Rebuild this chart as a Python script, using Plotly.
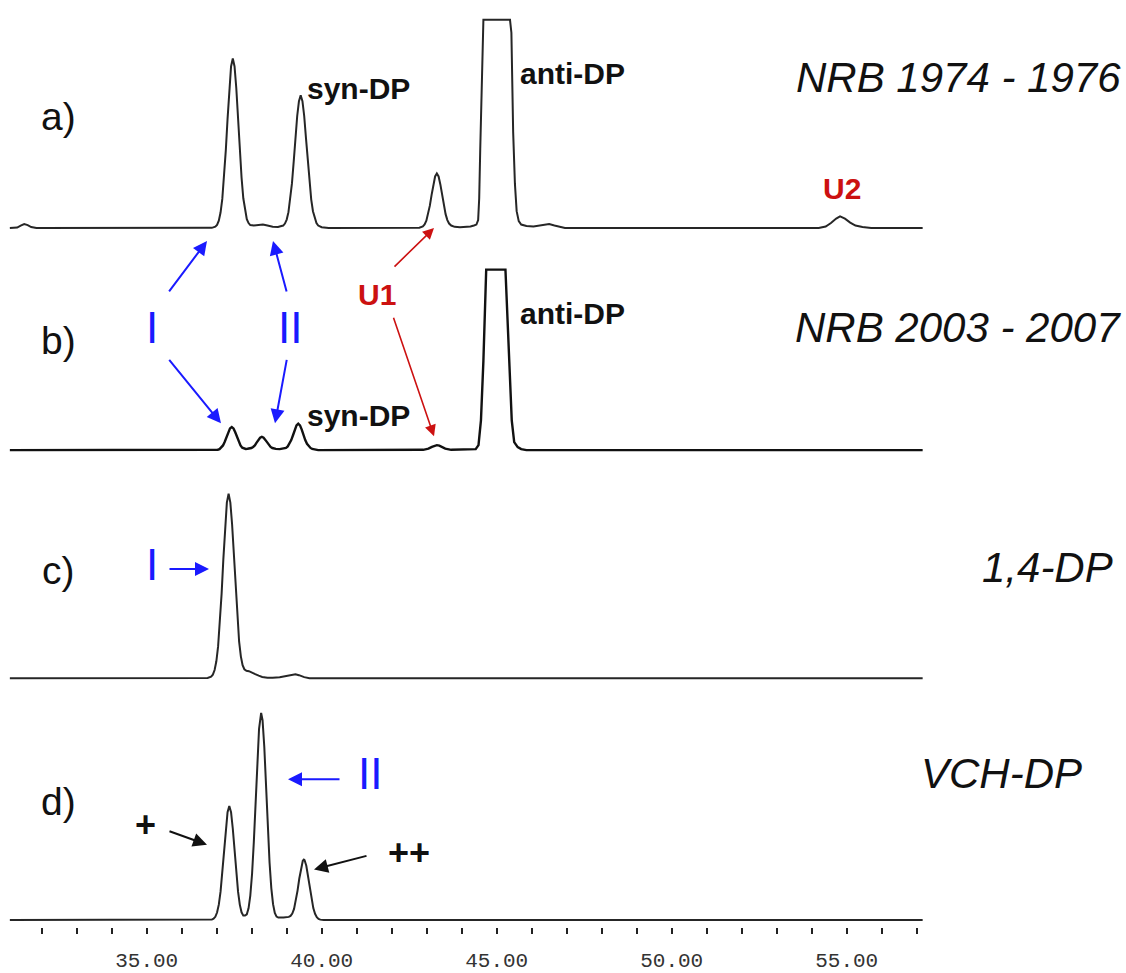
import plotly.graph_objects as go

# ---------------- data (retention time in min, detector response) ----------------
a_x = [31.09, 31.3, 31.4, 31.5, 31.6, 31.7, 31.85, 36.7,
       36.86, 36.96, 37.01, 37.06, 37.11, 37.16, 37.21, 37.26, 37.31, 37.36, 37.41, 37.46,
       37.51, 37.56, 37.61, 37.66, 37.71, 37.76, 37.81, 37.86, 37.91, 37.96,
       38.06, 38.2, 38.32, 38.45, 38.6, 38.75,
       38.85, 38.9, 38.95, 39.0, 39.05, 39.1, 39.15, 39.2, 39.25, 39.3, 39.35, 39.4, 39.45,
       39.5, 39.55, 39.6, 39.65, 39.7, 39.75, 39.8, 39.85, 39.9,
       40.0, 40.2, 42.6,
       42.79, 42.89, 42.94, 42.99, 43.04, 43.09, 43.14, 43.19, 43.24, 43.29, 43.34, 43.39,
       43.44, 43.49, 43.54, 43.59, 43.64, 43.7, 43.8, 43.95,
       44.1, 44.25, 44.35, 44.42, 44.47, 44.5, 44.53, 44.57, 44.6, 44.62,
       45.38, 45.42, 45.47, 45.52, 45.57, 45.63, 45.7, 45.85,
       46.05, 46.25, 46.4, 46.5, 46.65, 46.8, 46.95,
       54.2, 54.4, 54.55, 54.7, 54.81, 54.95, 55.1, 55.25, 55.45, 55.7, 57.17]
a_y = [0, 0.5, 2.5, 4, 3, 1, 0, 0,
       0.2, 1.3, 3.2, 7.5, 15.6, 29.4, 50.4, 78.3, 110, 141, 163, 171,
       163, 141, 110, 78, 51, 30, 17, 9, 5, 3,
       2.5, 3, 3.5, 2.5, 1.2, 1,
       1.8, 2.5, 4.5, 8.5, 16, 28, 45, 67, 91, 113, 128, 134, 128,
       113, 91, 67, 46, 29, 17, 9.5, 5, 2.5,
       0.8, 0, 0,
       0.3, 1.6, 3.6, 7.4, 13.7, 22.6, 33.4, 44, 52, 55, 52, 44,
       33.4, 22.6, 14, 8, 4.5, 2.5, 1.2, 0.8,
       1, 1.5, 2.5, 3.5, 8, 30, 80, 130, 180, 210,
       210, 197, 97, 45, 17, 7, 3.5, 2,
       1.5, 2.5, 4, 4, 2.5, 1, 0,
       0, 1.5, 5, 9.5, 11.7, 9.5, 5.5, 2.5, 1, 0, 0]

b_x = [31.09, 36.98,
       37.03, 37.08, 37.13, 37.18, 37.23, 37.28, 37.33, 37.38, 37.43, 37.48, 37.53, 37.58,
       37.63, 37.68, 37.73,
       37.78, 37.83, 37.88,
       37.94, 37.99, 38.04, 38.09, 38.14, 38.19, 38.24, 38.29, 38.34, 38.39, 38.44, 38.49,
       38.54, 38.59, 38.64, 38.69,
       38.8,
       38.93, 38.98, 39.03, 39.08, 39.13, 39.18, 39.23, 39.28, 39.33, 39.38, 39.43, 39.48,
       39.53, 39.58, 39.63, 39.68, 39.73,
       39.8, 39.9, 42.9,
       43.05, 43.15, 43.22, 43.29, 43.36, 43.43, 43.53, 43.7,
       44.4, 44.48, 44.55, 44.62, 44.66, 44.7,
       45.25, 45.3, 45.36, 45.43, 45.5, 45.6, 45.7, 45.85,
       57.17]
b_y = [0, 0,
       0.4, 1, 2.4, 4.7, 8.4, 13.1, 18, 21.9, 23.3, 21.9, 18, 13.1,
       8.4, 4.7, 2.4,
       1.5, 1.2, 1.4,
       1.6, 2.1, 3.2, 4.8, 7.5, 10.3, 12.5, 13.3, 12.5, 10.3, 7.5, 4.8,
       3.2, 2.1, 1.6, 1.2,
       1.0,
       1.5, 2.2, 3.7, 6.4, 10.1, 15, 20.7, 25, 26.7, 25, 20.7, 15,
       10.1, 6.4, 3.7, 2.2, 1.2,
       0.5, 0, 0.3,
       1.5, 3.3, 4.5, 5, 4.5, 3.3, 1.5, 0.3,
       1, 5, 30, 90, 140, 182,
       182, 140, 80, 30, 8, 3, 1, 0,
       0]

c_x = [31.09, 36.74, 36.84, 36.89, 36.94, 36.99, 37.04, 37.09, 37.14, 37.19, 37.24, 37.29,
       37.34, 37.39, 37.44, 37.49, 37.54, 37.59, 37.64, 37.69, 37.74, 37.79, 37.85, 37.92,
       38.0, 38.1, 38.2, 38.3, 38.45, 38.6, 38.8, 39.0, 39.15, 39.25, 39.35, 39.5, 39.65, 57.17]
c_y = [0, 0.2, 1.4, 3.5, 8.2, 17, 32, 55, 85, 120, 153, 177,
       186, 177, 155, 124, 90, 60, 37, 22, 13, 9, 7.5, 7,
       6, 4, 2.5, 1.2, 0.5, 0.3, 0.8, 2.5, 3.8, 4, 3, 1, 0, 0]

d_x = [31.09, 36.76, 36.81, 36.86, 36.91, 36.96, 37.01, 37.06, 37.11, 37.16, 37.21, 37.26,
       37.31, 37.36, 37.41, 37.46, 37.51, 37.56, 37.61, 37.66, 37.71, 37.76, 37.81, 37.86,
       37.91, 37.96, 38.01, 38.06, 38.11, 38.16, 38.21, 38.27, 38.31, 38.36, 38.41, 38.46,
       38.51, 38.56, 38.61, 38.66, 38.71, 38.76, 38.81, 38.86, 38.91, 38.96, 39.01, 39.06,
       39.11, 39.16, 39.21, 39.26, 39.31, 39.36, 39.41, 39.46, 39.49, 39.51, 39.56, 39.61,
       39.66, 39.71, 39.76, 39.81, 39.86, 39.91, 39.96, 40.06, 57.17]
d_y = [0, 0, 0.1, 0.45, 1.3, 3.3, 7.6, 15.5, 28.6, 47.3, 69.8, 92.1,
       108.8, 115, 108.8, 92.1, 69.8, 47.3, 28.6, 15.6, 7.8, 4.5, 4.5, 5.8,
       11.8, 24.7, 46.5, 78.4, 118.3, 159.7, 192.9, 209, 201.7, 174.5, 135.2, 93.7,
       58.1, 32.3, 16.0, 7.1, 3.5, 2.5, 2.2, 2.5, 2.5, 2.6, 2.8, 3.2,
       4.2, 6.5, 11.3, 19.2, 29.7, 41.9, 52.9, 59.8, 61, 60.5, 54.7, 44.3,
       32.1, 20.8, 12.1, 6.3, 2.9, 1.2, 0.45, 0, 0]

tick_vals = list(range(32, 58))
tick_labels = [35, 40, 45, 50, 55]
tick_text = [("%.2f" % v) if v in tick_labels else "" for v in tick_vals]

# ---------------- layout helpers (pixel -> paper) ----------------
W, H, PH = 1126, 973, 935


def px(x):
    return x / W


def py(y):
    return 1 - y / PH


fig = go.Figure()
line = dict(color="#262626", width=2)
fig.add_trace(go.Scatter(x=a_x, y=a_y, mode="lines", line=line, yaxis="y4", hoverinfo="skip"))
fig.add_trace(go.Scatter(x=b_x, y=b_y, mode="lines", line=dict(color="#111111", width=2.4), yaxis="y3", hoverinfo="skip"))
fig.add_trace(go.Scatter(x=c_x, y=c_y, mode="lines", line=line, yaxis="y2", hoverinfo="skip"))
fig.add_trace(go.Scatter(x=d_x, y=d_y, mode="lines", line=line, yaxis="y", hoverinfo="skip"))

FONT = "Liberation Sans, Arial, sans-serif"
BLUE = "#1a1aff"
RED = "#cc1111"
ann = []


def text(x, y, s, size, color="#111111", italic=False, bold=False, xanchor="center"):
    t = s
    if italic:
        t = "<i>%s</i>" % t
    if bold:
        t = "<b>%s</b>" % t
    ann.append(dict(x=px(x), y=py(y), xref="paper", yref="paper", text=t, showarrow=False,
                    xanchor=xanchor, yanchor="middle",
                    font=dict(family=FONT, size=size, color=color)))


def arrow(tx, ty, hx, hy, color, width=2, size=1.4):
    ann.append(dict(x=px(hx), y=py(hy), xref="paper", yref="paper", ax=tx - hx, ay=ty - hy,
                    axref="pixel", ayref="pixel", text="", showarrow=True, arrowhead=2,
                    arrowsize=size, arrowwidth=width, arrowcolor=color, standoff=0))


# panel letters
text(58, 118, "a)", 39)
text(58, 343, "b)", 39)
text(58, 575, "c)", 39)
text(58, 808, "d)", 39)
# right-hand sample names
text(958, 78, "NRB 1974 - 1976", 42, italic=True)
text(958, 330, "NRB 2003 - 2007", 42, italic=True)
text(1047, 572, "1,4-DP", 42, italic=True)
text(1001, 780, "VCH-DP", 42, italic=True)
# peak names
text(305, 89, "syn-DP", 30, bold=True, xanchor="left")
text(518, 74, "anti-DP", 30, bold=True, xanchor="left")
text(518, 316, "anti-DP", 30, bold=True, xanchor="left")
text(305, 419, "syn-DP", 30, bold=True, xanchor="left")
text(842, 190, "U2", 30, color=RED, bold=True)
text(377, 297, "U1", 30, color=RED, bold=True)
text(152, 330, "I", 44, color=BLUE)
text(290, 330, "II", 44, color=BLUE)
text(152, 569, "I", 44, color=BLUE)
text(370, 780, "II", 44, color=BLUE)
text(145, 832, "+", 36, bold=True)
text(409, 860, "++", 36, bold=True)

# arrows
arrow(168, 295, 207, 243, BLUE)
arrow(287, 295, 273, 243, BLUE)
arrow(168, 362, 221, 427, BLUE)
arrow(287, 362, 275, 427, BLUE)
arrow(393, 270, 434, 230, RED, width=1.6)
arrow(393, 320, 434, 440, RED, width=1.6)
arrow(168, 574, 209, 574, BLUE)
arrow(341, 786, 288, 786, BLUE)
arrow(168, 838, 207, 852, "#111111")
arrow(368, 863, 314, 877, "#111111")

x0 = 35 - 146.7 / 35
x1 = x0 + W / 35
fig.update_layout(
    width=W, height=H,
    margin=dict(l=0, r=0, t=0, b=H - PH),
    paper_bgcolor="white", plot_bgcolor="white",
    showlegend=False,
    annotations=ann,
    xaxis=dict(range=[x0, x1], tickmode="array", tickvals=tick_vals, ticktext=tick_text,
               ticks="outside", ticklen=6, tickwidth=2, tickcolor="#222222",
               showline=False, showgrid=False, zeroline=False, anchor="y",
               ticklabelstandoff=8,
               tickfont=dict(family="Liberation Mono, Courier New, monospace", size=21, color="#333333")),
    yaxis=dict(domain=[0, 1 - 705 / PH], range=[-7, 223], visible=False),
    yaxis2=dict(domain=[1 - 700 / PH, 1 - 480 / PH], range=[-16, 204], visible=False, anchor="x"),
    yaxis3=dict(domain=[1 - 470 / PH, 1 - 250 / PH], range=[-16, 204], visible=False, anchor="x"),
    yaxis4=dict(domain=[1 - 245 / PH, 1], range=[-15, 230], visible=False, anchor="x"),
)

fig.write_html("out.html")
